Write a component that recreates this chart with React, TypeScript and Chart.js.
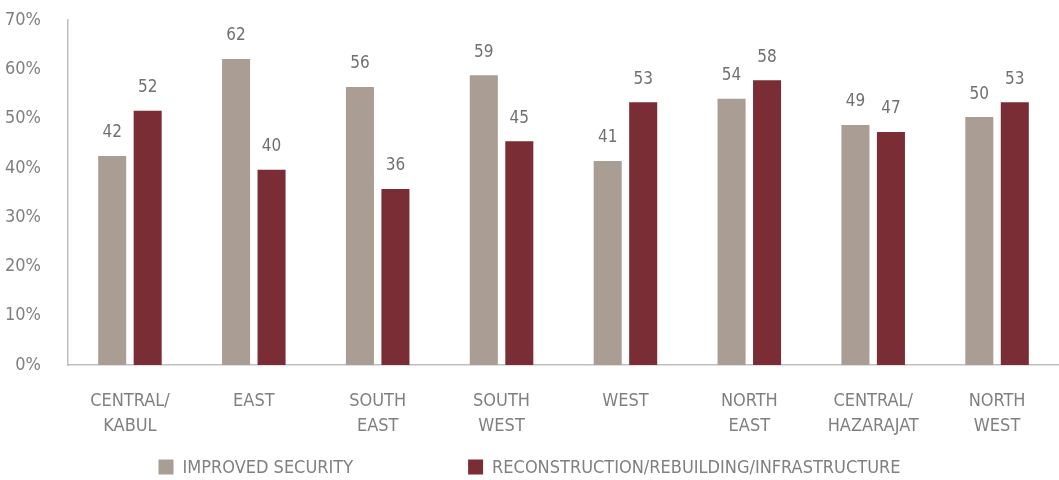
import React, { useEffect, useRef } from "react";
import { Chart, registerables } from "chart.js";

Chart.register(...registerables);

const categories: string[][] = [
  ["CENTRAL/", "KABUL"],
  ["EAST"],
  ["SOUTH", "EAST"],
  ["SOUTH", "WEST"],
  ["WEST"],
  ["NORTH", "EAST"],
  ["CENTRAL/", "HAZARAJAT"],
  ["NORTH", "WEST"],
];
const improvedSecurity = [42.4, 62.1, 56.4, 58.8, 41.4, 54.0, 48.7, 50.3];
const reconstruction = [51.6, 39.6, 35.7, 45.4, 53.3, 57.8, 47.3, 53.3];
const seriesNames = ["IMPROVED SECURITY", "RECONSTRUCTION/REBUILDING/INFRASTRUCTURE"];
const colors = ["#A99D94", "#7B2D35"];

const FONT = "'Liberation Sans Narrow', 'DejaVu Sans Condensed', 'Roboto Condensed', 'Arial Narrow', sans-serif";
const TEXT_COLOR = "#808080";

const valueLabels = {
  id: "valueLabels",
  afterDatasetsDraw(chart: any) {
    const ctx = chart.ctx;
    ctx.save();
    ctx.font = `17px ${FONT}`;
    ctx.fillStyle = "#707070";
    ctx.textAlign = "center";
    ctx.textBaseline = "middle";
    chart.data.datasets.forEach((ds: any, di: number) => {
      const meta = chart.getDatasetMeta(di);
      meta.data.forEach((bar: any, i: number) => {
        ctx.fillText(String(Math.round(ds.data[i])), bar.x, bar.y - 23);
      });
    });
    ctx.restore();
  },
};

const bottomLegend = {
  id: "bottomLegend",
  afterDraw(chart: any) {
    const ctx = chart.ctx;
    ctx.save();
    ctx.font = `18px ${FONT}`;
    const box = 15;
    const textGap = 9;
    const itemGap = 115;
    const widths = seriesNames.map((n) => box + textGap + ctx.measureText(n).width);
    const total = widths.reduce((a, b) => a + b, 0) + itemGap * (widths.length - 1);
    let x = (chart.width - total) / 2;
    const y = 467;
    seriesNames.forEach((n, i) => {
      ctx.fillStyle = colors[i];
      ctx.fillRect(x, y - box / 2, box, box);
      ctx.fillStyle = TEXT_COLOR;
      ctx.textAlign = "left";
      ctx.textBaseline = "middle";
      ctx.fillText(n, x + box + textGap, y + 1);
      x += widths[i] + itemGap;
    });
    ctx.restore();
  },
};

export default function App() {
  const ref = useRef<HTMLCanvasElement>(null);
  useEffect(() => {
    if (!ref.current) return;
    const chart = new Chart(ref.current, {
      type: "bar",
      data: {
        labels: categories,
        datasets: [
          {
            label: seriesNames[0],
            data: improvedSecurity,
            backgroundColor: colors[0],
            categoryPercentage: 0.573,
            barPercentage: 0.79,
          },
          {
            label: seriesNames[1],
            data: reconstruction,
            backgroundColor: colors[1],
            categoryPercentage: 0.573,
            barPercentage: 0.79,
          },
        ],
      },
      options: {
        animation: false,
        responsive: false,
        maintainAspectRatio: false,
        layout: { padding: { top: 20, right: 0, bottom: 40, left: 0 } },
        plugins: {
          legend: { display: false },
          tooltip: { enabled: false },
        },
        scales: {
          x: {
            grid: { display: false, drawTicks: false },
            border: { display: true, color: "#BFBFBF", width: 1.5 },
            ticks: {
              color: TEXT_COLOR,
              font: { family: FONT, size: 18, lineHeight: 1.4 },
              padding: 24,
              maxRotation: 0,
              autoSkip: false,
            },
            afterFit: (s: any) => {
              s.height = 75;
            },
          },
          y: {
            min: 0,
            max: 70,
            grid: { display: false, drawTicks: false },
            border: { display: true, color: "#BFBFBF", width: 1.5 },
            ticks: {
              stepSize: 10,
              color: TEXT_COLOR,
              font: { family: FONT, size: 18 },
              padding: 27,
              callback: (v: any) => `${v}%`,
            },
            afterFit: (s: any) => {
              s.width = 68;
              s.paddingTop = 10;
              s.paddingBottom = 10;
            },
          },
        },
      },
      plugins: [valueLabels, bottomLegend],
    });
    return () => chart.destroy();
  }, []);
  return (
    <div style={{ position: "fixed", left: 0, top: 0, width: 1059, height: 480, background: "#fff" }}>
      <canvas ref={ref} width={1059} height={480} style={{ width: 1059, height: 480 }} />
    </div>
  );
}
